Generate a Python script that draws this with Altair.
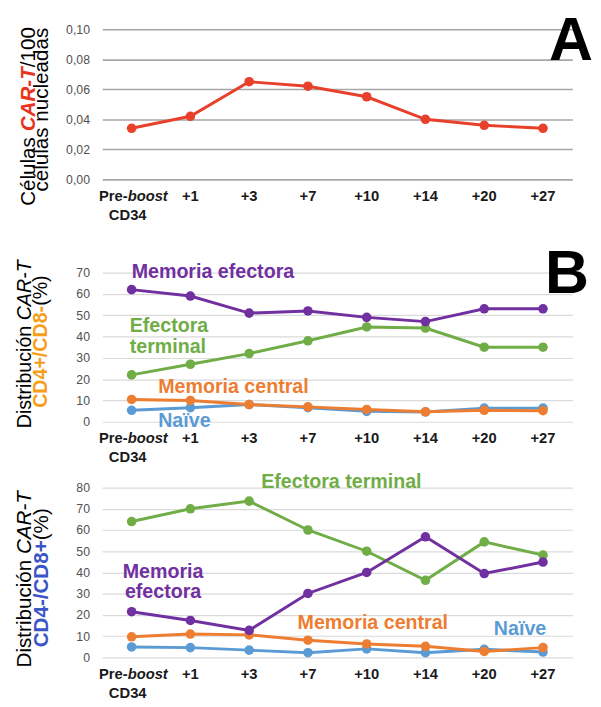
import altair as alt
import pandas as pd

# ---------------- data ----------------
categories = ["Pre-boost", "+1", "+3", "+7", "+10", "+14", "+20", "+27"]

a_values = [0.034, 0.042, 0.065, 0.062, 0.055, 0.040, 0.036, 0.034]

b_naive = [5.4, 6.6, 8.1, 6.6, 4.9, 4.6, 6.4, 6.4]
b_central = [10.5, 10.0, 8.1, 7.0, 5.8, 4.7, 5.4, 5.2]
b_terminal = [22, 27, 32, 38, 44.5, 44, 35, 35]
b_efectora = [62, 59, 51, 52, 49, 47, 53, 53]

c_naive = [4.9, 4.6, 3.4, 2.2, 4.0, 2.2, 3.8, 2.5]
c_central = [9.7, 11.0, 10.6, 8.1, 6.3, 5.2, 2.8, 4.6]
c_terminal = [64, 70, 73.6, 60, 50, 36.3, 54.4, 48.2]
c_efectora = [21.5, 17.4, 12.7, 30.1, 40, 56.8, 39.5, 44.9]

series_names = ["Naïve", "Memoria central", "Efectora terminal", "Memoria efectora"]
series_colors = ["#5b9bd5", "#ed7d31", "#70ad47", "#7030a0"]

FONT = "Liberation Sans"
W = 479
HA, HB, HC = 153, 180, 173
one = pd.DataFrame({"k": [0]})


def long_df(series_lists):
    rows = []
    for name, vals in zip(series_names, series_lists):
        for c, v in zip(categories, vals):
            rows.append({"cat": c, "serie": name, "value": v})
    return pd.DataFrame(rows)


def xenc():
    return alt.X("cat:N", sort=categories, scale=alt.Scale(type="point", padding=0.5), axis=None)


def label(text, x, y, size, color="black", weight="normal", style="normal",
          align="left", baseline="middle", angle=0):
    return alt.Chart(one).mark_text(
        text=text, fontSize=size, color=color, fontWeight=weight, fontStyle=style,
        align=align, baseline=baseline, angle=angle, font=FONT
    ).encode(x=alt.value(x), y=alt.value(y))


def xlabels(h):
    df = pd.DataFrame({"cat": categories})
    common = dict(font=FONT, fontSize=15, fontWeight="bold", color="#1a1a1a", baseline="middle")
    rest = alt.Chart(df).transform_filter(alt.datum.cat != categories[0]).mark_text(
        align="center", **common).encode(x=xenc(), y=alt.value(h + 17), text="cat:N")
    first = alt.Chart(df).transform_filter(alt.datum.cat == categories[0])
    pre = first.mark_text(text="Pre-", align="right", dx=-4, **common).encode(
        x=xenc(), y=alt.value(h + 17))
    boost = first.mark_text(text="boost", align="left", dx=-4, fontStyle="italic", **common).encode(
        x=xenc(), y=alt.value(h + 17))
    cd34 = first.mark_text(text="CD34", align="center", dx=-4, **common).encode(
        x=xenc(), y=alt.value(h + 36))
    return [rest, pre, boost, cd34]


def yaxis(values, expr, gcolor, gwidth):
    return alt.Axis(values=values, labelExpr=expr, grid=True, gridColor=gcolor, gridWidth=gwidth,
                    domain=False, ticks=False, labelPadding=13, labelFontSize=12.5,
                    labelColor="#505050", labelFont=FONT, title=None)


# ---------------- panel A ----------------
dfa = pd.DataFrame({"cat": categories, "value": a_values})
ya = alt.Y("value:Q", scale=alt.Scale(domain=[0, 0.10], nice=False),
           axis=yaxis([0, 0.02, 0.04, 0.06, 0.08, 0.10],
                      "replace(format(datum.value, '.2f'), '.', ',')", "#a6a6a6", 1.6))
base_a = alt.Chart(dfa).encode(x=xenc(), y=ya)
line_a = base_a.mark_line(color="#e8402a", strokeWidth=3)
pts_a = base_a.mark_circle(color="#e8402a", size=95, opacity=1)

titleA = [
    label("Células ", -69, 180, 21, angle=270, baseline="alphabetic"),
    label("CAR-T", -69, 104.1, 21, color="#e8341c", weight="bold", style="italic",
          angle=270, baseline="alphabetic"),
    label("/100", -69, 38.8, 21, angle=270, baseline="alphabetic"),
    label("células nucleadas", -55, 82, 21, angle=270, baseline="alphabetic", align="center"),
]
letterA = label("A", W + 21, 31, 62, weight="bold", align="right", baseline="alphabetic")

panelA = alt.layer(line_a, pts_a, *xlabels(HA), *titleA, letterA).properties(width=W, height=HA)


# ---------------- series panels ----------------
def series_panel(df, domain_max, h, values, annotations, title_marks, extra):
    y = alt.Y("value:Q", scale=alt.Scale(domain=[0, domain_max], nice=False),
              axis=yaxis(values, "format(datum.value, 'd')", "#dadada", 1.2))
    layers = []
    for name, col in zip(series_names, series_colors):
        b = alt.Chart(df).transform_filter(alt.datum.serie == name).encode(x=xenc(), y=y)
        layers.append(b.mark_line(color=col, strokeWidth=3))
        layers.append(b.mark_circle(color=col, size=95, opacity=1))
    return alt.layer(*layers, *xlabels(h), *annotations, *title_marks, *extra).properties(
        width=W, height=h)


dfb = long_df([b_naive, b_central, b_terminal, b_efectora])
annB = [
    label("Memoria efectora", 30, 28, 20, color="#7030a0", weight="bold"),
    label("Efectora", 28, 83, 20, color="#70ad47", weight="bold"),
    label("terminal", 28, 104, 20, color="#70ad47", weight="bold"),
    label("Memoria central", 57, 145, 20, color="#ed7d31", weight="bold"),
    label("Naïve", 57, 179, 20, color="#5b9bd5", weight="bold"),
]
titleB = [
    label("Distribución ", -73, 186.6, 20, angle=270, baseline="alphabetic"),
    label("CAR-T", -73, 76.6, 20, style="italic", angle=270, baseline="alphabetic"),
    label("CD4+/CD8-", -56, 165.8, 20, color="#f5a01a", weight="bold", angle=270,
          baseline="alphabetic"),
    label(" (%)", -56, 61.9, 20, angle=270, baseline="alphabetic"),
]
letterB = [label("B", W + 17, 49, 62, weight="bold", align="right", baseline="alphabetic")]
panelB = series_panel(dfb, 70 * HB / 152, HB, [0, 10, 20, 30, 40, 50, 60, 70], annB, titleB, letterB)

dfc = long_df([c_naive, c_central, c_terminal, c_efectora])
annC = [
    label("Efectora terminal", 162, -6, 20, color="#70ad47", weight="bold"),
    label("Memoria", 62, 86, 20, color="#7030a0", weight="bold", align="center"),
    label("efectora", 62, 107, 20, color="#7030a0", weight="bold", align="center"),
    label("Memoria central", 199, 138, 20, color="#ed7d31", weight="bold"),
    label("Naïve", 399, 144, 20, color="#5b9bd5", weight="bold"),
]
titleC = [
    label("Distribución ", -73, 183.3, 21, angle=270, baseline="alphabetic"),
    label("CAR-T", -73, 67.8, 21, style="italic", angle=270, baseline="alphabetic"),
    label("CD4-/CD8+", -55, 162.8, 21, color="#3b55c6", weight="bold", angle=270,
          baseline="alphabetic"),
    label(" (%)", -55, 53.7, 21, angle=270, baseline="alphabetic"),
]
panelC = series_panel(dfc, 80, HC, [0, 10, 20, 30, 40, 50, 60, 70, 80], annC, titleC, [])

chart = alt.vconcat(panelA, panelB, panelC, spacing=67, bounds="flush").configure_view(
    stroke=None).properties(padding={"left": 5, "top": -4, "right": 0, "bottom": 0})

chart.save("out.html", embed_options={"renderer": "svg", "actions": False})
